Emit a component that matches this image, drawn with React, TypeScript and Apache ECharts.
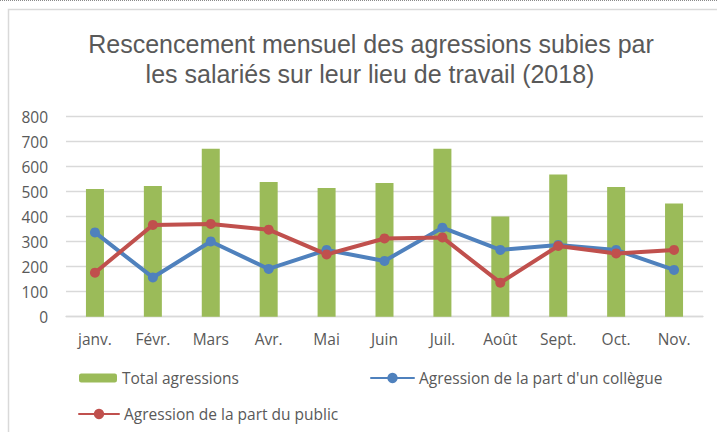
import React, { useEffect, useRef } from "react";
import * as echarts from "echarts";

const months = ["janv.", "Févr.", "Mars", "Avr.", "Mai", "Juin", "Juil.", "Août", "Sept.", "Oct.", "Nov."];
const totalAgressions = [511, 523, 672, 539, 515, 535, 672, 401, 569, 519, 453];
const collegue = [337, 157, 301, 191, 267, 223, 356, 267, 287, 267, 187];
const publicAgr = [176, 367, 371, 348, 249, 313, 317, 136, 283, 253, 267];
const yTicks = { min: 0, max: 800, interval: 100 };
const titleLines = [
  "Rescencement mensuel des agressions subies par",
  "les salariés sur leur lieu de travail (2018)",
];
const seriesNames = ["Total agressions", "Agression de la part d'un collègue", "Agression de la part du public"];

const FONT = "'Open Sans', 'Noto Sans', sans-serif";
const TITLE_FONT = "'Liberation Sans', Arial, sans-serif";
const TXT = "#595959";

export default function App() {
  const ref = useRef<HTMLDivElement>(null);
  useEffect(() => {
    if (!ref.current) return;
    const chart = echarts.init(ref.current, null, { renderer: "svg" });
    chart.setOption({
      animation: false,
      backgroundColor: "#ffffff",
      textStyle: { fontFamily: FONT },
      graphic: [
        {
          type: "line",
          shape: { x1: 0, y1: 0.5, x2: 717, y2: 0.5 },
          style: { stroke: "#8a8a8a", lineWidth: 1, lineDash: [1, 1] },
          silent: true,
        },
        {
          type: "rect",
          shape: { x: 8.5, y: 9.5, width: 800, height: 500 },
          style: { stroke: "#D9D9D9", lineWidth: 1.5, fill: "none" },
          silent: true,
        },
        {
          type: "text",
          x: 371,
          y: 44,
          style: { text: titleLines[0], fontSize: 25, fontFamily: TITLE_FONT, fill: TXT, align: "center", verticalAlign: "middle" },
          silent: true,
        },
        {
          type: "text",
          x: 370,
          y: 73.5,
          style: { text: titleLines[1], fontSize: 25, fontFamily: TITLE_FONT, fill: TXT, align: "center", verticalAlign: "middle" },
          silent: true,
        },
      ],
      grid: { left: 66, right: 14, top: 116.7, bottom: 115.3, containLabel: false },
      legend: [
        {
          data: [seriesNames[0]],
          left: 79,
          top: 370,
          padding: 0,
          itemWidth: 38,
          itemHeight: 9,
          selectedMode: false,
          textStyle: { color: TXT, fontSize: 15.5, fontFamily: FONT },
        },
        {
          data: [seriesNames[1]],
          left: 370,
          top: 370,
          padding: 0,
          itemWidth: 43,
          itemHeight: 13,
          selectedMode: false,
          textStyle: { color: TXT, fontSize: 15.5, fontFamily: FONT },
        },
        {
          data: [seriesNames[2]],
          left: 78,
          top: 406,
          padding: 0,
          itemWidth: 40,
          itemHeight: 13,
          selectedMode: false,
          textStyle: { color: TXT, fontSize: 15.5, fontFamily: FONT },
        },
      ],
      xAxis: {
        type: "category",
        data: months,
        axisLine: { show: true, lineStyle: { color: "#D9D9D9", width: 1.3 } },
        axisTick: { show: false },
        axisLabel: { color: TXT, fontSize: 15.5, fontFamily: FONT, margin: 14 },
      },
      yAxis: {
        type: "value",
        min: yTicks.min,
        max: yTicks.max,
        interval: yTicks.interval,
        axisLine: { show: false },
        axisTick: { show: false },
        axisLabel: { color: TXT, fontSize: 15.5, fontFamily: FONT, margin: 18 },
        splitLine: { lineStyle: { color: "#D9D9D9", width: 1.3 } },
      },
      series: [
        {
          name: seriesNames[0],
          type: "bar",
          data: totalAgressions,
          barWidth: 18,
          itemStyle: { color: "#9BBB59" },
        },
        {
          name: seriesNames[1],
          type: "line",
          data: collegue,
          symbol: "circle",
          symbolSize: 10,
          lineStyle: { color: "#4F81BD", width: 4, cap: "round", join: "round" },
          itemStyle: { color: "#4F81BD" },
        },
        {
          name: seriesNames[2],
          type: "line",
          data: publicAgr,
          symbol: "circle",
          symbolSize: 10,
          lineStyle: { color: "#C0504D", width: 4, cap: "round", join: "round" },
          itemStyle: { color: "#C0504D" },
        },
      ],
    });
    return () => chart.dispose();
  }, []);
  return (
    <div
      ref={ref}
      style={{ position: "fixed", left: 0, top: 0, width: 717, height: 432 }}
    />
  );
}
